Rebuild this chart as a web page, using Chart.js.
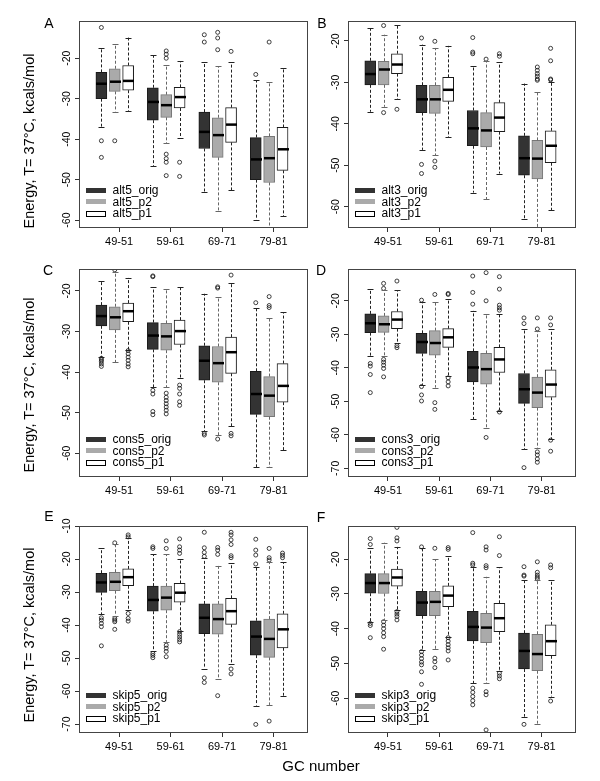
<!DOCTYPE html>
<html>
<head>
<meta charset="utf-8">
<script src="https://cdn.jsdelivr.net/npm/chart.js@4.4.1/dist/chart.umd.min.js"></script>
<style>
  body { margin: 0; background: #fff; }
  #wrap { position: relative; width: 600px; height: 781px; font-family: "Liberation Sans", Arial, sans-serif; color: #000; }
  canvas { position: absolute; }
  .letter { position: absolute; font-size: 14px; line-height: 1; transform: translate(-50%, -50%); }
  .ytitle { position: absolute; font-size: 14.5px; line-height: 1; white-space: nowrap; transform: translate(-50%, -50%) rotate(-90deg); }
  #xtitle { position: absolute; left: 321px; top: 765px; font-size: 15px; line-height: 1; white-space: nowrap; transform: translate(-50%, -50%); }
</style>
</head>
<body>
<div id="wrap">
  <canvas id="chartA"></canvas>
  <canvas id="chartB"></canvas>
  <canvas id="chartC"></canvas>
  <canvas id="chartD"></canvas>
  <canvas id="chartE"></canvas>
  <canvas id="chartF"></canvas>

  <div class="letter" style="left:49px; top:23px;">A</div>
  <div class="letter" style="left:322px; top:23px;">B</div>
  <div class="letter" style="left:48px; top:270px;">C</div>
  <div class="letter" style="left:321px; top:270px;">D</div>
  <div class="letter" style="left:49px; top:516px;">E</div>
  <div class="letter" style="left:321px; top:517px;">F</div>

  <div class="ytitle" style="left:29px; top:141px;">Energy, T= 37°C, kcals/mol</div>
  <div class="ytitle" style="left:29px; top:385px;">Energy, T= 37°C, kcals/mol</div>
  <div class="ytitle" style="left:29px; top:635px;">Energy, T= 37°C, kcals/mol</div>

  <div id="xtitle">GC number</div>
</div>

<script>
// categories
const gcGroups = ['49-51', '59-61', '69-71', '79-81'];

// box stats per group: [lower whisker, q1, median, q3, upper whisker]
// outliers per group

// A - alt5
const alt5Orig = [[-36.9, -30.0, -26.3, -23.5, -17.4], [-46.6, -35.3, -30.8, -27.3, -19.3], [-53.0, -42.3, -38.2, -33.3, -21.0], [-59.9, -50.0, -45.0, -39.6, -25.5]];
const alt5P2 = [[-33.2, -28.2, -25.8, -22.6, -16.5], [-41.0, -34.6, -31.6, -29.0, -21.7], [-57.7, -44.5, -39.0, -34.7, -22.0], [-63.0, -50.7, -44.7, -39.3, -25.8]];
const alt5P1 = [[-33.0, -27.9, -25.6, -21.8, -14.9], [-39.6, -32.3, -29.6, -27.2, -20.7], [-52.6, -40.8, -36.4, -32.2, -21.0], [-59.0, -47.7, -42.5, -37.1, -22.3]];
const alt5OrigOut = [[-12.4, -40.4, -44.5], [], [-14.2, -16.0], [-24.0]];
const alt5P2Out = [[-40.4], [-18.2, -19.0, -20.0, -43.7, -44.8, -45.7, -49.0], [-13.6, -15.0, -17.9], [-16.0]];
const alt5P1Out = [[], [-45.7, -49.2], [-18.3], []];

// B - alt3
const alt3Orig = [[-37.1, -30.6, -28.0, -24.8, -17.0], [-46.3, -37.3, -34.1, -30.7, -20.9], [-56.6, -45.3, -41.1, -36.8, -26.0], [-63.0, -52.4, -48.3, -42.9, -30.3]];
const alt3P2 = [[-35.9, -30.6, -26.9, -24.9, -18.5], [-47.6, -37.5, -34.1, -30.7, -21.7], [-58.2, -45.6, -41.6, -37.3, -24.8], [-66.0, -53.3, -48.4, -44.0, -32.4]];
const alt3P1 = [[-34.1, -27.9, -25.7, -23.1, -16.1], [-43.3, -34.6, -31.8, -28.8, -21.2], [-52.0, -41.9, -38.5, -34.9, -25.2], [-60.8, -49.4, -45.3, -41.7, -30.0]];
const alt3OrigOut = [[], [-19.3, -49.8, -52.0], [-19.2, -22.7, -23.1], []];
const alt3P2Out = [[-16.3, -37.3], [-20.1, -49.0, -50.5], [-24.4], [-26.3, -27.1, -27.9, -28.5, -29.2, -29.5]];
const alt3P1Out = [[-36.5], [], [-23.1, -23.7], [-21.8, -24.8, -29.2, -29.4]];

// C - cons5
const cons5Orig = [[-36.3, -28.6, -26.2, -23.5, -17.5], [-43.7, -34.4, -31.0, -27.8, -19.1], [-54.6, -42.0, -37.2, -33.5, -20.7], [-63.5, -50.4, -45.4, -39.8, -24.3]];
const cons5P2 = [[-37.6, -29.6, -26.5, -23.9, -15.3], [-43.7, -34.6, -31.2, -28.0, -19.5], [-55.5, -42.5, -37.8, -33.7, -21.5], [-63.5, -51.0, -45.8, -41.1, -26.6]];
const cons5P1 = [[-34.5, -27.6, -25.0, -23.0, -16.8], [-41.5, -33.2, -29.9, -27.2, -19.1], [-53.3, -40.3, -35.1, -31.4, -18.1], [-59.2, -47.4, -43.4, -37.9, -25.3]];
const cons5OrigOut = [[-36.6, -37.0, -37.4, -38.0, -38.6], [-16.3, -16.5, -44.5, -45.4, -49.7, -50.5], [-55.1, -55.5], [-22.9]];
const cons5P2Out = [[-14.8], [-45.2, -46.2, -47.0, -47.8, -48.6, -49.4, -50.3], [-19.0, -19.3, -56.5], [-21.4, -23.6, -24.1]];
const cons5P1Out = [[-34.7, -35.5, -36.3, -37.1, -38.0, -38.7], [-43.2, -44.0, -45.4, -47.3, -48.2], [-16.1, -55.1, -55.7], []];

// D - cons3
const cons3Orig = [[-36.6, -29.5, -26.7, -23.9, -16.6], [-45.1, -35.7, -32.3, -29.7, -20.3], [-55.4, -44.2, -39.9, -35.1, -23.0], [-64.3, -50.6, -46.4, -41.7, -28.5]];
const cons3P2 = [[-36.5, -29.4, -27.0, -24.5, -16.8], [-45.9, -36.2, -32.6, -28.9, -20.5], [-58.1, -44.9, -40.4, -35.7, -24.0], [-64.0, -51.9, -47.4, -42.8, -28.9]];
const cons3P1 = [[-32.5, -28.3, -25.6, -23.2, -16.8], [-42.5, -33.9, -30.9, -28.3, -19.6], [-52.8, -41.4, -37.5, -33.9, -23.9], [-61.4, -48.8, -45.0, -40.6, -28.4]];
const cons3OrigOut = [[-38.7, -39.5, -42.0, -47.4], [-19.8, -45.6, -48.1, -49.9], [-12.6, -17.5, -21.0], [-25.1, -26.8, -69.8]];
const cons3P2Out = [[-14.8, -16.3, -37.5, -38.3, -39.2, -40.2, -42.7], [-18.1, -50.4, -52.4], [-11.6, -20.0, -60.8], [-25.1, -28.4, -65.1, -66.0, -67.2, -68.2]];
const cons3P1Out = [[-14.1, -33.4, -34.0], [-17.8, -18.1, -43.0, -44.2, -45.4], [-12.8, -16.5, -21.3, -22.1, -22.8, -53.2], [-25.1, -27.2, -61.6, -64.9]];

// E - skip5
const skip5Orig = [[-36.8, -30.1, -27.1, -24.3, -16.7], [-47.9, -35.8, -32.4, -28.2, -18.6], [-53.2, -42.6, -37.8, -33.6, -19.8], [-64.4, -49.1, -43.5, -38.7, -22.3]];
const skip5P2 = [[-37.2, -29.6, -26.9, -24.0, -15.6], [-45.1, -35.5, -31.7, -28.2, -18.6], [-56.4, -42.8, -38.2, -33.6, -22.0], [-64.2, -49.8, -44.2, -38.2, -21.0]];
const skip5P1 = [[-35.3, -28.1, -25.5, -23.0, -13.5], [-41.7, -33.1, -30.2, -27.4, -20.0], [-51.9, -39.8, -35.8, -31.9, -21.3], [-61.4, -46.9, -41.3, -36.6, -21.0]];
const skip5OrigOut = [[-37.8, -38.5, -39.5, -40.5, -46.3], [-16.3, -16.8, -48.6, -49.2, -49.9], [-11.9, -16.6, -18.0, -19.2, -56.0, -57.4], [-14.0, -17.3, -18.8, -21.5, -70.1]];
const skip5P2Out = [[-15.1, -38.0, -38.5, -39.0, -41.3], [-14.5, -16.8, -46.1, -47.0, -48.0, -49.6], [-16.5, -17.3, -18.6, -61.4], [-16.8, -19.6, -20.3, -69.1]];
const skip5P1Out = [[-12.7, -13.3, -36.5, -38.0, -38.8], [-13.9, -16.3, -17.3, -18.3, -42.0, -42.8, -43.6, -44.4, -45.1], [-11.9, -12.7, -14.2, -15.6, -19.0, -19.6, -53.3, -54.8], [-18.2, -18.9, -19.6]];

// F - skip3
const skip3Orig = [[-38.0, -29.8, -26.9, -24.2, -16.9], [-46.0, -36.3, -32.5, -29.3, -16.9], [-55.7, -43.5, -39.5, -35.0, -22.3], [-65.3, -51.6, -46.4, -41.3, -26.1]];
const skip3P2 = [[-37.5, -29.9, -26.9, -24.2, -15.3], [-45.9, -36.3, -32.3, -29.3, -20.0], [-55.7, -44.0, -39.7, -35.6, -25.1], [-67.3, -52.1, -47.3, -41.6, -26.0]];
const skip3P1 = [[-34.6, -27.8, -25.3, -22.9, -16.5], [-42.3, -33.7, -30.5, -27.7, -19.1], [-52.2, -40.9, -37.0, -32.7, -22.3], [-59.5, -47.8, -43.6, -38.9, -26.0]];
const skip3OrigOut = [[-14.1, -15.8, -38.5, -39.1, -42.6], [-16.5, -46.6, -47.6, -48.6, -49.6, -50.4, -52.4, -56.0], [-12.4, -21.2, -21.7, -57.1, -58.3, -59.5, -60.7, -61.9], [-22.2, -24.6, -24.9, -67.5]];
const skip3P2Out = [[-38.0, -39.0, -40.0, -41.2, -42.3, -45.9], [-16.9, -48.5, -49.5, -51.2], [-16.5, -17.4, -21.9, -22.5, -58.1, -59.0, -69.1], [-20.8, -23.8, -24.6, -25.2, -25.7]];
const skip3P1Out = [[-10.9, -13.9, -14.8, -35.1, -35.8, -36.5, -37.5], [-16.7, -17.2, -42.6, -43.6, -44.6, -45.5, -46.4, -49.0], [-13.6, -19.0, -52.8, -53.6, -54.4], [-21.7, -22.5, -60.8]];

// y tick labels
const yTicksAB = [-60, -50, -40, -30, -20];
const yTicksD = [-70, -60, -50, -40, -30, -20];
const yTicksE = [-70, -60, -50, -40, -30, -20, -10];

// styles
const seriesOffset = [-0.345, -0.085, 0.175];
const boxFill = ['#333333', '#aaaaaa', '#ffffff'];
const boxEdge = ['#1a1a1a', '#777777', '#1a1a1a'];
const whiskerColor = ['#222222', '#666666', '#222222'];
const fontFamily = "'Liberation Sans', Arial, Helvetica, sans-serif";

Chart.defaults.font.family = fontFamily;
Chart.defaults.color = '#000';

const panels = [
  { id: 'chartA', rect: [79, 21, 308, 227], y: [-61.7, -10.8], ticks: yTicksAB,
    names: ['alt5_orig', 'alt5_p2', 'alt5_p1'], boxes: [alt5Orig, alt5P2, alt5P1], outs: [alt5OrigOut, alt5P2Out, alt5P1Out] },
  { id: 'chartB', rect: [348, 21, 576, 227], y: [-64.9, -15.2], ticks: yTicksAB,
    names: ['alt3_orig', 'alt3_p2', 'alt3_p1'], boxes: [alt3Orig, alt3P2, alt3P1], outs: [alt3OrigOut, alt3P2Out, alt3P1Out] },
  { id: 'chartC', rect: [79, 269, 308, 476], y: [-65.6, -14.6], ticks: yTicksAB,
    names: ['cons5_orig', 'cons5_p2', 'cons5_p1'], boxes: [cons5Orig, cons5P2, cons5P1], outs: [cons5OrigOut, cons5P2Out, cons5P1Out] },
  { id: 'chartD', rect: [348, 269, 576, 476], y: [-72.3, -10.5], ticks: yTicksD,
    names: ['cons3_orig', 'cons3_p2', 'cons3_p1'], boxes: [cons3Orig, cons3P2, cons3P1], outs: [cons3OrigOut, cons3P2Out, cons3P1Out] },
  { id: 'chartE', rect: [79, 526, 308, 732], y: [-72.4, -10.0], ticks: yTicksE,
    names: ['skip5_orig', 'skip5_p2', 'skip5_p1'], boxes: [skip5Orig, skip5P2, skip5P1], outs: [skip5OrigOut, skip5P2Out, skip5P1Out] },
  { id: 'chartF', rect: [348, 526, 576, 732], y: [-69.7, -10.5], ticks: yTicksAB,
    names: ['skip3_orig', 'skip3_p2', 'skip3_p1'], boxes: [skip3Orig, skip3P2, skip3P1], outs: [skip3OrigOut, skip3P2Out, skip3P1Out] }
];

const padL = 45, padT = 12, padR = 3, padB = 25;

// whiskers, medians, frame, y labels and legend
function boxExtras(p) {
  return {
    id: 'boxExtras',
    afterDatasetsDraw(chart) {
      const { ctx, chartArea, scales: { x, y } } = chart;
      const half = 5.5, cap = 3;
      ctx.save();
      ctx.beginPath();
      ctx.rect(chartArea.left, chartArea.top, chartArea.width, chartArea.height);
      ctx.clip();
      p.boxes.forEach((stats, s) => {
        stats.forEach((st, g) => {
          const cx = Math.round(x.getPixelForValue(g + 1 + seriesOffset[s])) + 0.5;
          const [lo, q1, med, q3, hi] = st.map(v => y.getPixelForValue(v));
          // dashed whiskers
          ctx.strokeStyle = whiskerColor[s];
          ctx.lineWidth = 1;
          ctx.setLineDash([3, 2]);
          ctx.beginPath();
          ctx.moveTo(cx, q3); ctx.lineTo(cx, hi);
          ctx.moveTo(cx, q1); ctx.lineTo(cx, lo);
          ctx.stroke();
          // caps
          ctx.setLineDash([]);
          ctx.beginPath();
          ctx.moveTo(cx - cap, Math.round(hi) + 0.5); ctx.lineTo(cx + cap, Math.round(hi) + 0.5);
          ctx.moveTo(cx - cap, Math.round(lo) + 0.5); ctx.lineTo(cx + cap, Math.round(lo) + 0.5);
          ctx.stroke();
          // median
          ctx.strokeStyle = '#000';
          ctx.lineWidth = 2.5;
          ctx.beginPath();
          ctx.moveTo(cx - half, med); ctx.lineTo(cx + half, med);
          ctx.stroke();
        });
      });
      ctx.restore();
    },
    afterDraw(chart) {
      const { ctx, chartArea, scales: { y } } = chart;
      ctx.save();
      // frame
      ctx.strokeStyle = '#444';
      ctx.lineWidth = 1;
      ctx.strokeRect(chartArea.left + 0.5, chartArea.top + 0.5, chartArea.width - 1, chartArea.height);
      // y tick labels, rotated like R
      ctx.fillStyle = '#000';
      ctx.font = '10.5px ' + fontFamily;
      ctx.textAlign = 'center';
      ctx.textBaseline = 'alphabetic';
      y.ticks.forEach(t => {
        const py = y.getPixelForValue(t.value);
        ctx.save();
        ctx.translate(chartArea.left - 9, py);
        ctx.rotate(-Math.PI / 2);
        ctx.fillText(String(t.value), 0, 0);
        ctx.restore();
      });
      // legend
      const rows = [37, 25.3, 13.7];
      ctx.font = '12px ' + fontFamily;
      ctx.textAlign = 'left';
      ctx.textBaseline = 'middle';
      p.names.forEach((name, s) => {
        const ry = chartArea.bottom - rows[s];
        const lx = chartArea.left + 7;
        ctx.fillStyle = boxFill[s];
        ctx.fillRect(lx, Math.round(ry - 2.5), 20, 5);
        if (s === 2) {
          ctx.strokeStyle = '#000';
          ctx.strokeRect(lx + 0.5, Math.round(ry - 2.5) + 0.5, 19, 5);
        }
        ctx.fillStyle = '#000';
        ctx.fillText(name, chartArea.left + 33.5, ry + 0.5);
      });
      ctx.restore();
    }
  };
}

function makePanel(p) {
  const [l, t, r, b] = p.rect;
  const canvas = document.getElementById(p.id);
  canvas.width = r - l + padL + padR;
  canvas.height = b - t + padT + padB;
  canvas.style.left = (l - padL) + 'px';
  canvas.style.top = (t - padT) + 'px';

  const datasets = [];
  p.boxes.forEach((stats, s) => {
    datasets.push({
      type: 'bar',
      data: stats.map((st, g) => ({ x: g + 1 + seriesOffset[s], y: [st[1], st[3]] })),
      backgroundColor: boxFill[s],
      borderColor: boxEdge[s],
      borderWidth: 1,
      borderSkipped: false,
      barThickness: 11,
      grouped: false,
      order: 2
    });
  });
  p.outs.forEach((groups, s) => {
    const pts = [];
    groups.forEach((vals, g) => vals.forEach(v => pts.push({ x: g + 1 + seriesOffset[s], y: v })));
    datasets.push({
      type: 'scatter',
      data: pts,
      pointStyle: 'circle',
      pointRadius: 2,
      pointBorderWidth: 0.8,
      borderColor: '#111',
      backgroundColor: 'rgba(0,0,0,0)',
      showLine: false,
      order: 1
    });
  });

  new Chart(canvas, {
    type: 'bar',
    data: { datasets },
    options: {
      responsive: false,
      animation: false,
      events: [],
      layout: { autoPadding: false, padding: { left: 0, top: padT, right: padR, bottom: 0 } },
      plugins: { legend: { display: false }, tooltip: { enabled: false } },
      scales: {
        x: {
          type: 'linear',
          min: 0.22,
          max: 4.67,
          offset: false,
          afterBuildTicks: s => { s.ticks = gcGroups.map((_, i) => ({ value: i + 1 })); },
          afterFit: s => { s.height = padB; },
          ticks: {
            callback: v => gcGroups[v - 1],
            font: { size: 11 },
            color: '#000',
            padding: 3,
            maxRotation: 0,
            autoSkip: false
          },
          grid: { drawOnChartArea: false, drawTicks: true, tickLength: 5, color: '#333', offset: false },
          border: { display: false }
        },
        y: {
          type: 'linear',
          min: p.y[0],
          max: p.y[1],
          afterBuildTicks: s => { s.ticks = p.ticks.map(v => ({ value: v })); },
          afterFit: s => { s.width = padL; },
          ticks: { display: false },
          grid: { drawOnChartArea: false, drawTicks: true, tickLength: 4, color: '#333' },
          border: { display: false }
        }
      }
    },
    plugins: [boxExtras(p)]
  });
}

panels.forEach(makePanel);
</script>
</body>
</html>
